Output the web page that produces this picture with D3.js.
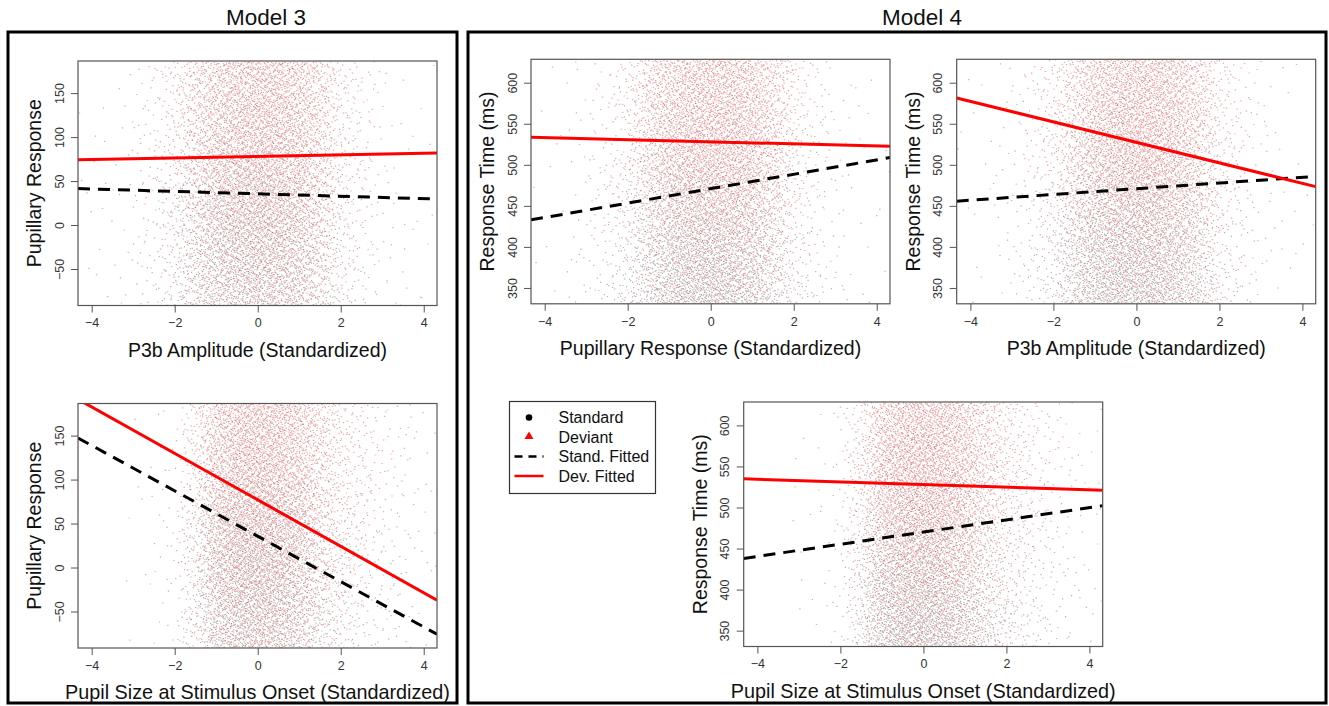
<!DOCTYPE html>
<html>
<head>
<meta charset="utf-8">
<script src="https://cdn.jsdelivr.net/npm/d3@7"></script>
<style>
  body { margin: 0; background: #fff; }
  svg text { font-family: "Liberation Sans", Arial, sans-serif; }
</style>
</head>
<body>
<div id="chart"></div>
<script>
// Canvas size
const width = 1329;
const height = 706;

// Tick values
const xTicks = [-4, -2, 0, 2, 4];
const pupilTicks = [-50, 0, 50, 100, 150];
const rtTicks = [350, 400, 450, 500, 550, 600];

// Fitted lines: predicted y at x = -4 and x = 4
const fitX = [-4, 4];
const m3P3bStd = [41, 30];
const m3P3bDev = [74.5, 81.5];
const m3PupilStd = [138.8, -67.6];
const m3PupilDev = [182.6, -28.6];
const m4RespStd = [435.8, 506];
const m4RespDev = [533, 523];
const m4P3bStd = [456.9, 484.8];
const m4P3bDev = [577.3, 477.4];
const m4PupilStd = [440.4, 499.8];
const m4PupilDev = [534.4, 521.6];

// Estimated relative density of the point clouds
// x grid -4..4 step 0.5
const xGrid = [-4, -3.5, -3, -2.5, -2, -1.5, -1, -0.5, 0, 0.5, 1, 1.5, 2, 2.5, 3, 3.5, 4];
const xDensSymStd = [0.005, 0.01, 0.03, 0.08, 0.2, 0.55, 0.85, 1, 1, 0.9, 0.75, 0.45, 0.15, 0.06, 0.02, 0.01, 0.005];
const xDensSymDev = [0.005, 0.01, 0.02, 0.06, 0.15, 0.45, 0.75, 0.9, 1, 1, 0.85, 0.55, 0.2, 0.08, 0.03, 0.01, 0.005];
const xDensSizeStd = [0, 0, 0.005, 0.01, 0.03, 0.25, 0.8, 1, 1, 0.9, 0.65, 0.35, 0.18, 0.1, 0.05, 0.025, 0.01];
const xDensSizeDev = [0, 0, 0.005, 0.01, 0.03, 0.2, 0.7, 0.95, 1, 0.95, 0.75, 0.45, 0.22, 0.12, 0.06, 0.03, 0.015];
// pupillary response grid -100..200 step 25
const pupilGrid = [-100, -75, -50, -25, 0, 25, 50, 75, 100, 125, 150, 175, 200];
const pupilDensStd = [0.8, 0.9, 1, 1, 1, 0.95, 0.85, 0.7, 0.6, 0.5, 0.45, 0.4, 0.35];
const pupilDensDev = [0.45, 0.5, 0.55, 0.6, 0.7, 0.8, 0.85, 0.9, 0.95, 1, 1, 1, 1];
// response time grid 325..625 step 25
const rtGrid = [325, 350, 375, 400, 425, 450, 475, 500, 525, 550, 575, 600, 625];
const rtDensStd = [1, 1, 0.95, 0.9, 0.8, 0.7, 0.6, 0.5, 0.45, 0.4, 0.35, 0.3, 0.3];
const rtDensDev = [0.35, 0.4, 0.45, 0.5, 0.6, 0.7, 0.85, 0.95, 1, 1, 1, 0.95, 0.9];
const pointsPerGroup = 3800;

const xDomain = [-4.33, 4.32];
const pupilDomain = [-91.5, 186.5];
const rtDomain = [330.7, 628.5];

const panels = [
  { x: 78, y: 61, xTitle: "P3b Amplitude (Standardized)", yTitle: "Pupillary Response",
    yDomain: pupilDomain, yTicks: pupilTicks, std: m3P3bStd, dev: m3P3bDev,
    xs: xDensSymStd, xd: xDensSymDev, yGrid: pupilGrid, ys: pupilDensStd, yd: pupilDensDev },
  { x: 78, y: 403.5, xTitle: "Pupil Size at Stimulus Onset (Standardized)", yTitle: "Pupillary Response",
    yDomain: pupilDomain, yTicks: pupilTicks, std: m3PupilStd, dev: m3PupilDev,
    xs: xDensSizeStd, xd: xDensSizeDev, yGrid: pupilGrid, ys: pupilDensStd, yd: pupilDensDev },
  { x: 531, y: 59.3, xTitle: "Pupillary Response (Standardized)", yTitle: "Response Time (ms)",
    yDomain: rtDomain, yTicks: rtTicks, std: m4RespStd, dev: m4RespDev,
    xs: xDensSymStd, xd: xDensSymDev, yGrid: rtGrid, ys: rtDensStd, yd: rtDensDev },
  { x: 956.7, y: 59.3, xTitle: "P3b Amplitude (Standardized)", yTitle: "Response Time (ms)",
    yDomain: rtDomain, yTicks: rtTicks, std: m4P3bStd, dev: m4P3bDev,
    xs: xDensSymStd, xd: xDensSymDev, yGrid: rtGrid, ys: rtDensStd, yd: rtDensDev },
  { x: 743.7, y: 402, xTitle: "Pupil Size at Stimulus Onset (Standardized)", yTitle: "Response Time (ms)",
    yDomain: rtDomain, yTicks: rtTicks, std: m4PupilStd, dev: m4PupilDev,
    xs: xDensSizeStd, xd: xDensSizeDev, yGrid: rtGrid, ys: rtDensStd, yd: rtDensDev }
];
const pw = 359, ph = 244.5;

const svg = d3.select("#chart").append("svg")
  .attr("width", width)
  .attr("height", height);

// Outer frames and titles
svg.append("rect").attr("x", 8).attr("y", 32).attr("width", 449).attr("height", 671)
  .attr("fill", "none").attr("stroke", "#000").attr("stroke-width", 3);
svg.append("rect").attr("x", 468).attr("y", 32).attr("width", 858).attr("height", 671)
  .attr("fill", "none").attr("stroke", "#000").attr("stroke-width", 3);
svg.append("text").attr("x", 266).attr("y", 25).attr("text-anchor", "middle")
  .attr("font-size", 22.5).attr("fill", "#111").text("Model 3");
svg.append("text").attr("x", 922).attr("y", 25).attr("text-anchor", "middle")
  .attr("font-size", 22.5).attr("fill", "#111").text("Model 4");

// Low-discrepancy sequence to lay out the density texture
function halton(i, b) {
  let f = 1, r = 0;
  while (i > 0) { f /= b; r += f * (i % b); i = Math.floor(i / b); }
  return r;
}

function cloudPoints(gx, dx, gy, dy, yDom, n, offset) {
  const fx = d3.scaleLinear().domain(gx).range(dx).clamp(true);
  const fy = d3.scaleLinear().domain(gy).range(dy).clamp(true);
  const pts = [];
  let i = offset;
  while (pts.length < n && i < offset + 300000) {
    const px = xDomain[0] + halton(i, 2) * (xDomain[1] - xDomain[0]);
    const py = yDom[0] + halton(i, 3) * (yDom[1] - yDom[0]);
    if (halton(i, 5) < fx(px) * fy(py)) pts.push([px, py]);
    i++;
  }
  return pts;
}

panels.forEach((p, k) => {
  const g = svg.append("g").attr("transform", `translate(${p.x},${p.y})`);
  const x = d3.scaleLinear().domain(xDomain).range([0, pw]);
  const y = d3.scaleLinear().domain(p.yDomain).range([ph, 0]);

  const clipId = "clip" + k;
  g.append("clipPath").attr("id", clipId)
    .append("rect").attr("width", pw).attr("height", ph);
  const plot = g.append("g").attr("clip-path", `url(#${clipId})`);

  // point clouds
  const groups = [
    { xs: p.xs, ys: p.ys, color: "#000", op: 0.3, off: 1 + k * 53000 },
    { xs: p.xd, ys: p.yd, color: "#ff0000", op: 0.38, off: 27000 + k * 53000 }
  ];
  groups.forEach(gr => {
    const pts = cloudPoints(xGrid, gr.xs, p.yGrid, gr.ys, p.yDomain, pointsPerGroup, gr.off);
    const s = 1.2;
    const d = pts.map(q => `M${x(q[0]).toFixed(1)},${y(q[1]).toFixed(1)}h${s}v${s}h${-s}z`).join("");
    plot.append("path").attr("d", d).attr("fill", gr.color).attr("fill-opacity", gr.op);
  });

  // fitted lines, extended over the plotting range
  const line = d3.line().x(d => x(d[0])).y(d => y(d[1]));
  const extend = v => {
    const slope = (v[1] - v[0]) / (fitX[1] - fitX[0]);
    return xDomain.map(xx => [xx, v[0] + slope * (xx - fitX[0])]);
  };
  plot.append("path").datum(extend(p.std)).attr("d", line)
    .attr("fill", "none").attr("stroke", "#000").attr("stroke-width", 3)
    .attr("stroke-dasharray", "12,8");
  plot.append("path").datum(extend(p.dev)).attr("d", line)
    .attr("fill", "none").attr("stroke", "#ff0000").attr("stroke-width", 3);

  // box
  g.append("rect").attr("width", pw).attr("height", ph)
    .attr("fill", "none").attr("stroke", "#555").attr("stroke-width", 1.2);

  // axes
  const xa = g.append("g").attr("transform", `translate(0,${ph})`)
    .call(d3.axisBottom(x).tickValues(xTicks).tickSize(7).tickSizeOuter(0).tickPadding(6));
  xa.select(".domain").remove();
  xa.selectAll("line").attr("stroke", "#555");
  xa.selectAll("text").attr("font-size", 12.5).attr("fill", "#333")
    .attr("font-family", "Liberation Sans, Arial, sans-serif");

  const ya = g.append("g")
    .call(d3.axisLeft(y).tickValues(p.yTicks).tickSize(7).tickSizeOuter(0));
  ya.select(".domain").remove();
  ya.selectAll("line").attr("stroke", "#555");
  ya.selectAll("text").attr("font-size", 12.5).attr("fill", "#333")
    .attr("font-family", "Liberation Sans, Arial, sans-serif")
    .attr("transform", "rotate(-90)")
    .attr("x", 0).attr("y", -14.5).attr("dy", 0)
    .attr("text-anchor", "middle");

  // axis titles
  g.append("text").attr("x", pw / 2).attr("y", ph + 51).attr("text-anchor", "middle")
    .attr("font-size", p.xTitle.length > 35 ? 19.8 : 19.5).attr("fill", "#111").text(p.xTitle);
  g.append("text").attr("transform", `translate(-37,${ph / 2}) rotate(-90)`)
    .attr("text-anchor", "middle").attr("font-size", 19.5).attr("fill", "#111").text(p.yTitle);
});

// Legend
const legendItems = ["Standard", "Deviant", "Stand. Fitted", "Dev. Fitted"];
const lg = svg.append("g").attr("transform", "translate(509.5,401.5)");
lg.append("rect").attr("width", 146).attr("height", 92)
  .attr("fill", "#fff").attr("stroke", "#333").attr("stroke-width", 1.2);
const ly = d3.scalePoint().domain(legendItems).range([16, 74.5]);
lg.append("circle").attr("cx", 19.5).attr("cy", ly("Standard")).attr("r", 3.3).attr("fill", "#000");
lg.append("path").attr("d", d3.symbol(d3.symbolTriangle, 34)())
  .attr("transform", `translate(19.5,${ly("Deviant") - 0.5})`).attr("fill", "#ff0000");
lg.append("line").attr("x1", 5).attr("x2", 34).attr("y1", ly("Stand. Fitted")).attr("y2", ly("Stand. Fitted"))
  .attr("stroke", "#000").attr("stroke-width", 2.5).attr("stroke-dasharray", "8,6");
lg.append("line").attr("x1", 5).attr("x2", 34).attr("y1", ly("Dev. Fitted")).attr("y2", ly("Dev. Fitted"))
  .attr("stroke", "#ff0000").attr("stroke-width", 2.5);
lg.selectAll("text.lab").data(legendItems).enter().append("text")
  .attr("class", "lab")
  .attr("x", 49).attr("y", d => ly(d)).attr("dy", "0.35em")
  .attr("font-size", 16).attr("fill", "#111").text(d => d);
</script>
</body>
</html>
